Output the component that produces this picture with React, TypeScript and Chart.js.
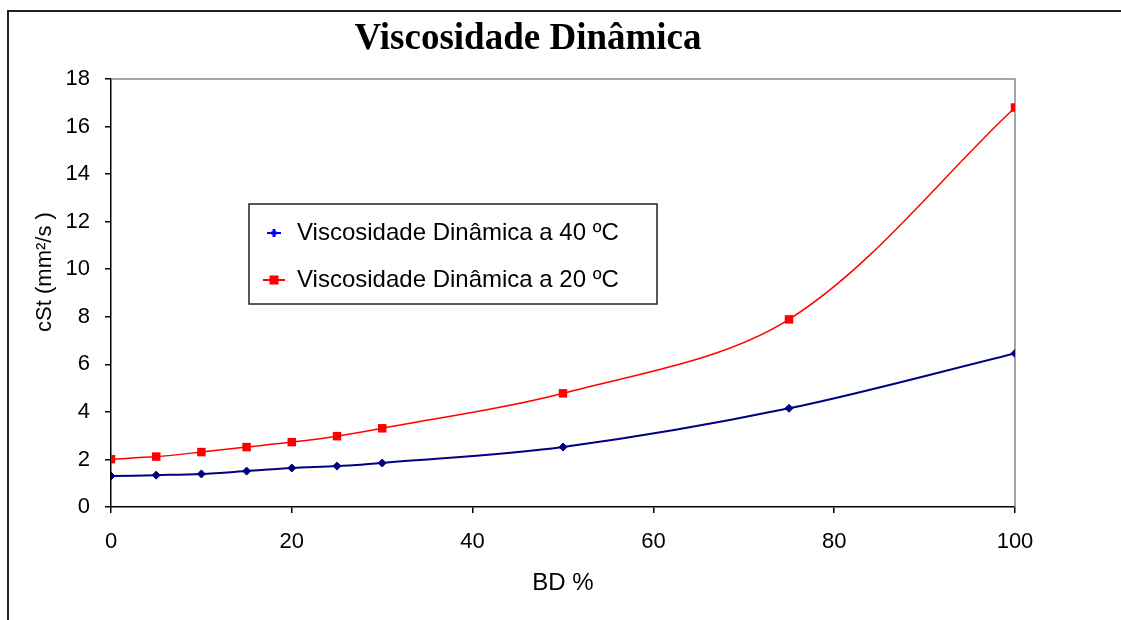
import React, { useEffect, useRef } from "react";
import { Chart, registerables } from "chart.js";

Chart.register(...registerables);

// ---- Data ----
const bdPercent = [0, 5, 10, 15, 20, 25, 30, 50, 75, 100];
const visc40 = [1.3, 1.34, 1.39, 1.51, 1.64, 1.72, 1.85, 2.52, 4.15, 6.46];
const visc20 = [2.01, 2.12, 2.31, 2.52, 2.73, 2.98, 3.31, 4.78, 7.89, 16.8];
const seriesLabels = ["Viscosidade Dinâmica a 40 ºC", "Viscosidade Dinâmica a 20 ºC"];
const chartTitle = "Viscosidade Dinâmica";
const xAxisTitle = "BD %";
const yAxisTitle = "cSt (mm²/s )";
const xRange = [0, 100];
const yRange = [0, 18];
const xStep = 20;
const yStep = 2;

const SANS = "'Liberation Sans', Arial, sans-serif";
const SERIF = "'Liberation Serif', 'Times New Roman', serif";

const decorPlugin = {
  id: "decor",
  beforeDraw(chart: any) {
    const ctx = chart.ctx;
    ctx.save();
    ctx.fillStyle = "#ffffff";
    ctx.fillRect(0, 0, chart.width, chart.height);
    // outer frame (only left and top visible)
    ctx.strokeStyle = "#222222";
    ctx.lineWidth = 2;
    ctx.beginPath();
    ctx.moveTo(8, chart.height + 5);
    ctx.lineTo(8, 11);
    ctx.lineTo(chart.width + 5, 11);
    ctx.stroke();
    // chart title
    ctx.fillStyle = "#000";
    ctx.font = `bold 37px ${SERIF}`;
    ctx.textAlign = "center";
    ctx.textBaseline = "middle";
    ctx.fillText(chartTitle, 528, 39);
    ctx.restore();
  },
  beforeDatasetsDraw(chart: any) {
    const { ctx, chartArea } = chart;
    ctx.save();
    ctx.strokeStyle = "#888888";
    ctx.lineWidth = 1.5;
    ctx.beginPath();
    ctx.moveTo(chartArea.left, chartArea.top);
    ctx.lineTo(chartArea.right, chartArea.top);
    ctx.lineTo(chartArea.right, chartArea.bottom);
    ctx.stroke();
    ctx.restore();
  },
  afterDatasetsDraw(chart: any) {
    const ctx = chart.ctx;
    ctx.save();
    // y axis title
    ctx.translate(45, 272);
    ctx.rotate(-Math.PI / 2);
    ctx.fillStyle = "#000";
    ctx.font = `22px ${SANS}`;
    ctx.textAlign = "center";
    ctx.textBaseline = "middle";
    ctx.fillText(yAxisTitle, 0, 0);
    ctx.restore();

    // legend box
    ctx.save();
    const bx = 249, by = 204, bw = 408, bh = 100;
    ctx.fillStyle = "#fff";
    ctx.fillRect(bx, by, bw, bh);
    ctx.strokeStyle = "#222";
    ctx.lineWidth = 1.5;
    ctx.strokeRect(bx, by, bw, bh);
    const rows = [233, 280];
    chart.data.datasets.forEach((ds: any, i: number) => {
      const y = rows[i];
      const cx = 274;
      ctx.strokeStyle = i === 0 ? "#0000ff" : "#ff0000";
      ctx.lineWidth = 2;
      ctx.beginPath();
      ctx.moveTo(i === 0 ? 267 : 263, y);
      ctx.lineTo(i === 0 ? 281 : 285, y);
      ctx.stroke();
      ctx.fillStyle = i === 0 ? "#0000ff" : "#ff0000";
      if (i === 0) {
        ctx.fillRect(cx - 1.5, y - 4, 3, 8);
        ctx.fillRect(cx - 3, y - 1.5, 6, 3);
      } else {
        ctx.fillRect(cx - 4.5, y - 4.5, 9, 9);
      }
      ctx.fillStyle = "#000";
      ctx.font = `24px ${SANS}`;
      ctx.textAlign = "left";
      ctx.textBaseline = "middle";
      ctx.fillText(ds.label, 297, y);
    });
    ctx.restore();
  },
};

export default function App() {
  const canvasRef = useRef<HTMLCanvasElement | null>(null);

  useEffect(() => {
    if (!canvasRef.current) return;
    const chart = new Chart(canvasRef.current, {
      type: "line",
      data: {
        datasets: [
          {
            label: seriesLabels[0],
            data: bdPercent.map((x, i) => ({ x, y: visc40[i] })),
            borderColor: "#000080",
            backgroundColor: "#000080",
            borderWidth: 2,
            pointStyle: "rectRot",
            pointRadius: 4,
            pointBorderWidth: 1,
            tension: 0.33,
          },
          {
            label: seriesLabels[1],
            data: bdPercent.map((x, i) => ({ x, y: visc20[i] })),
            borderColor: "#ff0000",
            backgroundColor: "#ff0000",
            borderWidth: 1.5,
            pointStyle: "rect",
            pointRadius: 6,
            pointBorderWidth: 0,
            tension: 0.33,
          },
        ],
      },
      options: {
        responsive: false,
        animation: false,
        events: [],
        layout: { padding: { left: 0, right: 106, top: 79, bottom: 0 } },
        plugins: {
          legend: { display: false },
          tooltip: { enabled: false },
          title: { display: false },
        },
        scales: {
          x: {
            type: "linear",
            min: xRange[0],
            max: xRange[1],
            afterFit(scale: any) {
              scale.height = 113;
            },
            grid: { display: true, drawOnChartArea: false, drawTicks: true, tickLength: 6, color: "#000", lineWidth: 1.5 },
            border: { display: true, color: "#000", width: 1.5 },
            ticks: { stepSize: xStep, color: "#000", padding: 16, font: { family: SANS, size: 22 }, maxRotation: 0 },
            title: {
              display: true,
              text: xAxisTitle,
              color: "#000",
              font: { family: SANS, size: 24 },
              padding: { top: 0, bottom: 22 },
            },
          },
          y: {
            type: "linear",
            min: yRange[0],
            max: yRange[1],
            afterFit(scale: any) {
              scale.width = 111;
            },
            grid: { display: true, drawOnChartArea: false, drawTicks: true, tickLength: 6, color: "#000", lineWidth: 1.5 },
            border: { display: true, color: "#000", width: 1.5 },
            ticks: { stepSize: yStep, color: "#000", padding: 15, font: { family: SANS, size: 22 } },
          },
        },
      },
      plugins: [decorPlugin],
    } as any);
    return () => chart.destroy();
  }, []);

  return (
    <div style={{ position: "fixed", left: 0, top: 0, width: 1121, height: 620, overflow: "hidden", background: "#fff" }}>
      <canvas ref={canvasRef} width={1121} height={620} style={{ display: "block" }} />
    </div>
  );
}
